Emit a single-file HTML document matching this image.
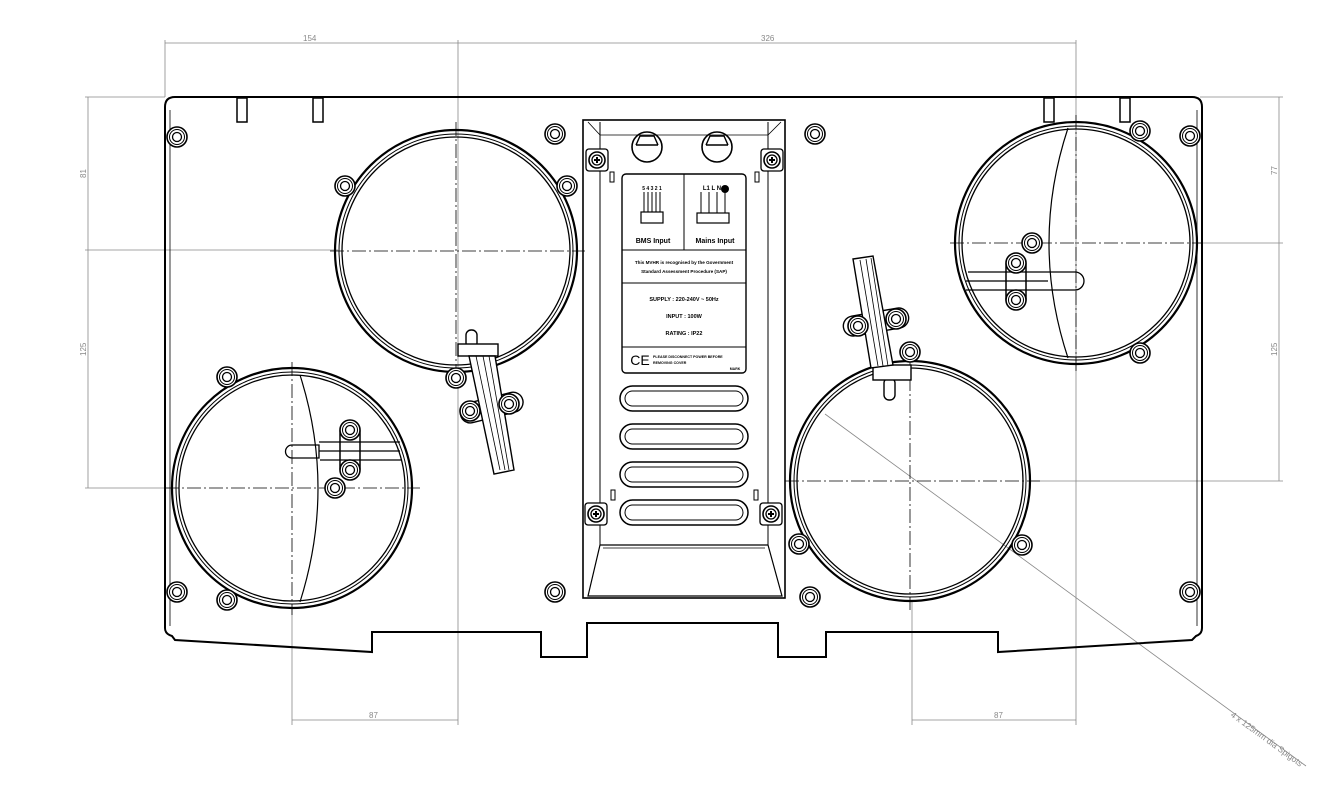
<!DOCTYPE html>
<html><head><meta charset="utf-8"><style>
html,body{margin:0;padding:0;background:#fff}
svg{display:block}
text{font-family:"Liberation Sans",sans-serif}
</style></head><body>
<svg width="1323" height="802" viewBox="0 0 1323 802" xmlns="http://www.w3.org/2000/svg">
<defs>
<g id="hole"><circle r="10" fill="#fff" stroke="#000" stroke-width="1.6"/><circle r="7.5" fill="none" stroke="#000" stroke-width="1"/><circle r="4.5" fill="none" stroke="#000" stroke-width="1.3"/></g>
<g id="screw"><rect x="-11" y="-11" width="22" height="22" rx="3" fill="#fff" stroke="#000" stroke-width="1.3"/><circle r="8" fill="#fff" stroke="#000" stroke-width="1.6"/><circle r="5" fill="none" stroke="#000" stroke-width="1.3"/><path d="M-3 0H3M0 -3V3" stroke="#000" stroke-width="2"/></g>
</defs>

<!-- dimension lines (grey) -->
<g stroke="#888" stroke-width="0.8" fill="none">
<line x1="165" y1="40" x2="165" y2="97"/>
<line x1="458" y1="40" x2="458" y2="725"/>
<line x1="1076" y1="40" x2="1076" y2="725"/>
<line x1="165" y1="43" x2="1076" y2="43"/>
<line x1="85" y1="97" x2="165" y2="97"/>
<line x1="85" y1="250" x2="338" y2="250"/>
<line x1="85" y1="488" x2="172" y2="488"/>
<line x1="88" y1="97" x2="88" y2="488"/>
<line x1="1200" y1="97" x2="1283" y2="97"/>
<line x1="1196" y1="243" x2="1283" y2="243"/>
<line x1="1030" y1="481" x2="1283" y2="481"/>
<line x1="1279" y1="97" x2="1279" y2="481"/>
<line x1="292" y1="605" x2="292" y2="725"/>
<line x1="912" y1="600" x2="912" y2="725"/>
<line x1="292" y1="720" x2="458" y2="720"/>
<line x1="912" y1="720" x2="1076" y2="720"/>
<line x1="825" y1="414" x2="1306" y2="766"/>
</g>
<g fill="#888" font-size="8">
<text x="303" y="41">154</text>
<text x="761" y="41">326</text>
<text x="369" y="718">87</text>
<text x="994" y="718">87</text>
<text transform="translate(86,178) rotate(-90)">81</text>
<text transform="translate(86,356) rotate(-90)">125</text>
<text transform="translate(1277,175) rotate(-90)">77</text>
<text transform="translate(1277,356) rotate(-90)">125</text>
<text transform="translate(1230,716) rotate(36)" font-size="8.5">4 x 125mm dia Spigots</text>
</g>

<!-- outline -->
<path d="M175 97 H1192 Q1202 97 1202 107 V628 Q1202 634 1196 636 L1192 640 L998 652 V632 H826 V657 H778 V623 H587 V657 H541 V632 H372 V652 L175 640 L172 636 Q165 634 165 628 V107 Q165 97 175 97 Z" fill="none" stroke="#000" stroke-width="2"/>
<path d="M170 110 V626" stroke="#000" stroke-width="0.8"/>
<path d="M1197 110 V626" stroke="#000" stroke-width="0.8"/>
<g fill="none" stroke="#000" stroke-width="1.5">
<rect x="237" y="98" width="10" height="24"/><rect x="313" y="98" width="10" height="24"/>
<rect x="1044" y="98" width="10" height="24"/><rect x="1120" y="98" width="10" height="24"/>
</g>

<!-- centre lines -->
<g stroke="#000" stroke-width="0.8" stroke-dasharray="14 3 2 3" fill="none">
<line x1="330" y1="251" x2="585" y2="251"/><line x1="456" y1="122" x2="456" y2="380"/>
<line x1="165" y1="488" x2="420" y2="488"/><line x1="292" y1="362" x2="292" y2="615"/>
<line x1="785" y1="481" x2="1040" y2="481"/><line x1="910" y1="355" x2="910" y2="610"/>
<line x1="950" y1="243" x2="1202" y2="243"/><line x1="1076" y1="115" x2="1076" y2="372"/>
</g>

<!-- circles -->
<g fill="none" stroke="#000">
<g><circle cx="456" cy="251" r="121" stroke-width="2.2"/><circle cx="456" cy="251" r="117" stroke-width="1"/><circle cx="456" cy="251" r="114" stroke-width="1.3"/></g>
<g><circle cx="292" cy="488" r="120" stroke-width="2.2"/><circle cx="292" cy="488" r="116" stroke-width="1"/><circle cx="292" cy="488" r="113" stroke-width="1.3"/></g>
<g><circle cx="910" cy="481" r="120" stroke-width="2.2"/><circle cx="910" cy="481" r="116" stroke-width="1"/><circle cx="910" cy="481" r="113" stroke-width="1.3"/></g>
<g><circle cx="1076" cy="243" r="121" stroke-width="2.2"/><circle cx="1076" cy="243" r="117" stroke-width="1"/><circle cx="1076" cy="243" r="114" stroke-width="1.3"/></g>
</g>

<!-- blades -->
<g fill="none" stroke="#000" stroke-width="1.2">
<path d="M300 375 Q336 488 300 602"/>
<path d="M1068 128 Q1030 243 1068 358"/>
</g>
<g fill="#fff" stroke="#000" stroke-width="1.5">
<rect x="340" y="422" width="20" height="56" rx="10"/>
<rect x="1006" y="255" width="20" height="54" rx="10"/>
</g>
<g fill="none" stroke="#000" stroke-width="1.3">
<path d="M319 442 H400 M320 460 H402 M319 451 H400"/>
<path d="M292 445 H319 V458 H292 A6 6 0 0 1 292 445"/>
<path d="M968 272 H1048 M966 290 H1048 M966 281 H1048"/>
<path d="M1048 272 H1075 A9 9 0 0 1 1075 290 H1048"/>
</g>
<use href="#hole" x="350" y="430"/><use href="#hole" x="350" y="470"/><use href="#hole" x="335" y="488"/>
<use href="#hole" x="1016" y="263"/><use href="#hole" x="1016" y="300"/><use href="#hole" x="1032" y="243"/>

<!-- levers -->
<g fill="#fff" stroke="#000" stroke-width="1.4">
<rect x="466" y="330" width="11" height="18" rx="5"/>
<rect x="458" y="344" width="40" height="12"/>
<g transform="rotate(-14 482 410)"><rect x="460" y="400" width="64" height="20" rx="10"/></g>
<path d="M469 356 L495 356 L514 470 L494 474 Z"/>
<path d="M476 356 L500 470 M483 356 L505 470 M489 356 L509 470" stroke-width="0.8"/>
<rect x="884" y="378" width="11" height="22" rx="5"/>
<rect x="873" y="365" width="38" height="15"/>
<g transform="rotate(-10 876 322)"><rect x="843" y="312" width="66" height="20" rx="10"/></g>
<path d="M853 259 L873 256 L893 365 L871 368 Z"/>
<path d="M860 260 L878 366 M866 259 L883 366 M871 258 L888 366" stroke-width="0.8"/>
</g>
<use href="#hole" x="470" y="411"/><use href="#hole" x="509" y="404"/>
<use href="#hole" x="858" y="326"/><use href="#hole" x="896" y="319"/>

<!-- lugs and corner holes -->
<g>
<use href="#hole" x="345" y="186"/><use href="#hole" x="567" y="186"/><use href="#hole" x="456" y="378"/>
<use href="#hole" x="227" y="377"/><use href="#hole" x="227" y="600"/>
<use href="#hole" x="799" y="544"/><use href="#hole" x="1022" y="545"/><use href="#hole" x="910" y="352"/>
<use href="#hole" x="1140" y="131"/><use href="#hole" x="1140" y="353"/>
<use href="#hole" x="177" y="137"/><use href="#hole" x="555" y="134"/><use href="#hole" x="815" y="134"/><use href="#hole" x="1190" y="136"/>
<use href="#hole" x="177" y="592"/><use href="#hole" x="555" y="592"/><use href="#hole" x="810" y="597"/><use href="#hole" x="1190" y="592"/>
</g>

<!-- centre panel -->
<g fill="none" stroke="#000">
<rect x="583" y="120" width="202" height="478" stroke-width="1.6"/>
<path d="M600 122 V545 M768 122 V545" stroke-width="1"/>
<path d="M588 122 L600 135 H768 L781 122" stroke-width="0.8"/>
<path d="M600 545 H768 L782 596 H588 Z" stroke-width="1.2"/>
<path d="M603 548 H765" stroke-width="0.8"/>
<circle cx="647" cy="147" r="15" stroke-width="1.6"/><circle cx="717" cy="147" r="15" stroke-width="1.6"/>
<path d="M636 145 L640 136 H654 L658 145 M636 145 H658" stroke-width="1.4"/>
<path d="M706 145 L710 136 H724 L728 145 M706 145 H728" stroke-width="1.4"/>
<rect x="622" y="174" width="124" height="199" rx="4" stroke-width="1.4"/>
<path d="M684 174 V250 M622 250 H746 M622 283 H746 M622 347 H746" stroke-width="1"/>
<path d="M644 192 V212 M648 192 V212 M652 192 V212 M656 192 V212 M660 192 V212" stroke-width="1"/>
<rect x="641" y="212" width="22" height="11" stroke-width="1.2"/>
<path d="M701 192 V213 M709 192 V213 M717 192 V213 M725 192 V213" stroke-width="1"/>
<rect x="697" y="213" width="32" height="10" stroke-width="1.2"/>
<rect x="610" y="172" width="4" height="10" stroke-width="1"/><rect x="755" y="172" width="4" height="10" stroke-width="1"/>
<rect x="611" y="490" width="4" height="10" stroke-width="1"/><rect x="754" y="490" width="4" height="10" stroke-width="1"/>
</g>
<circle cx="725" cy="189" r="4" fill="#000"/>
<g fill="#000" font-weight="bold" text-anchor="middle">
<text x="652" y="190" font-size="5">5 4 3 2 1</text>
<text x="712" y="190" font-size="6">L1 L  N</text>
<text x="653" y="243" font-size="7">BMS Input</text>
<text x="715" y="243" font-size="7">Mains Input</text>
<text x="684" y="264" font-size="4.6">This MVHR is recognised by the Government</text>
<text x="684" y="273" font-size="4.6">Standard Assessment Procedure (SAP)</text>
<text x="684" y="301" font-size="5.5">SUPPLY : 220-240V ~ 50Hz</text>
<text x="684" y="318" font-size="5.5">INPUT : 100W</text>
<text x="684" y="335" font-size="5.5">RATING : IP22</text>
<text x="640" y="365" font-size="14" font-weight="normal">CE</text>
<text x="653" y="358" font-size="3.6" text-anchor="start">PLEASE DISCONNECT POWER BEFORE</text>
<text x="653" y="364" font-size="3.6" text-anchor="start">REMOVING COVER</text>
<text x="735" y="370" font-size="3.5">MARK</text>
</g>
<g fill="none" stroke="#000">
<g stroke-width="1.5"><rect x="620" y="386" width="128" height="25" rx="12.5"/><rect x="620" y="424" width="128" height="25" rx="12.5"/><rect x="620" y="462" width="128" height="25" rx="12.5"/><rect x="620" y="500" width="128" height="25" rx="12.5"/></g>
<g stroke-width="1"><rect x="625" y="391" width="118" height="15" rx="7.5"/><rect x="625" y="429" width="118" height="15" rx="7.5"/><rect x="625" y="467" width="118" height="15" rx="7.5"/><rect x="625" y="505" width="118" height="15" rx="7.5"/></g>
</g>
<use href="#screw" x="597" y="160"/><use href="#screw" x="772" y="160"/>
<use href="#screw" x="596" y="514"/><use href="#screw" x="771" y="514"/>
</svg>
</body></html>
